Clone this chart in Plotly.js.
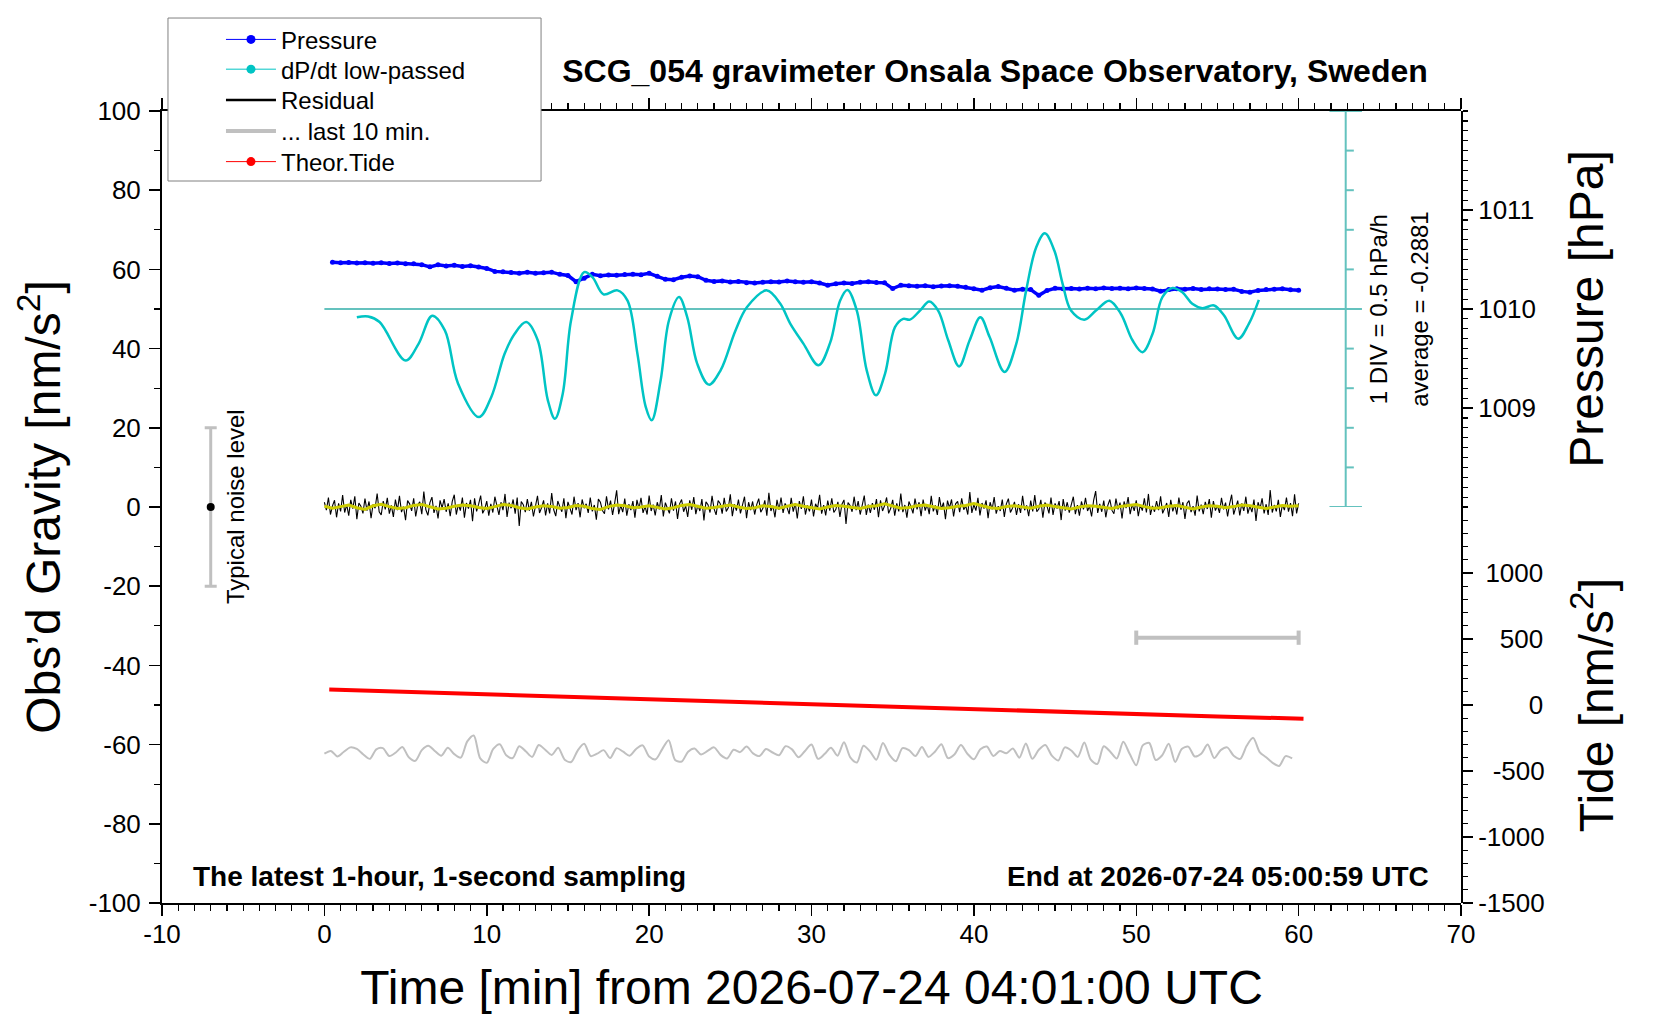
<!DOCTYPE html>
<html>
<head>
<meta charset="utf-8">
<script src="https://cdn.plot.ly/plotly-3.0.1.min.js"></script>
<style>html,body{margin:0;padding:0;background:#fff}</style>
</head>
<body>
<div id="chart" style="width:1660px;height:1020px"></div>
<script>
// values

// pressure [hPa], one value every 0.5 min starting at 0.5 min
var pressureStart = 0.5, pressureStep = 0.5;
var pressure = [
	1010.472,1010.466,1010.470,1010.464,1010.468,1010.462,1010.466,1010.460,1010.464,1010.458,
	1010.456,1010.448,1010.426,1010.446,1010.434,1010.442,1010.430,1010.436,1010.424,1010.410,
	1010.380,1010.376,1010.368,1010.362,1010.370,1010.360,1010.366,1010.372,1010.350,1010.338,
	1010.276,1010.310,1010.350,1010.336,1010.344,1010.340,1010.348,1010.352,1010.346,1010.360,
	1010.330,1010.300,1010.296,1010.320,1010.334,1010.326,1010.290,1010.278,1010.284,1010.272,
	1010.278,1010.266,1010.262,1010.270,1010.276,1010.272,1010.282,1010.276,1010.270,1010.274,
	1010.262,1010.240,1010.256,1010.262,1010.258,1010.270,1010.276,1010.268,1010.264,1010.206,
	1010.240,1010.236,1010.230,1010.236,1010.226,1010.232,1010.236,1010.230,1010.220,1010.204,
	1010.190,1010.214,1010.228,1010.210,1010.190,1010.200,1010.196,1010.138,1010.186,1010.210,
	1010.204,1010.208,1010.202,1010.210,1010.204,1010.212,1010.206,1010.210,1010.204,1010.212,
	1010.208,1010.202,1010.180,1010.196,1010.204,1010.200,1010.206,1010.198,1010.204,1010.202,
	1010.196,1010.200,1010.178,1010.170,1010.188,1010.196,1010.200,1010.204,1010.194,1010.190
];

// dP/dt low-passed [hPa/h]
var dpdtTime = [
	2.0,2.7,3.4,5.0,5.8,6.64,7.42,8.23,9.52,10.28,
	11.1,11.71,12.43,13.14,13.76,14.2,14.68,15.19,16.0,16.52,
	17.19,18.05,18.67,19.28,19.79,20.16,20.71,21.22,21.84,22.35,
	22.96,23.68,24.4,25.32,26.03,27.26,28.08,28.69,29.51,30.43,
	31.15,31.76,32.21,32.79,33.4,33.97,34.53,35.14,35.65,36.06,
	36.68,37.25,37.8,38.42,39.09,39.74,40.4,40.97,41.89,42.61,
	43.22,43.84,44.37,44.96,45.47,45.98,46.8,47.52,48.34,49.05,
	49.77,50.39,51.0,51.61,52.23,52.84,53.45,54.07,54.79,55.4,
	56.28,56.94,57.55
];
var dpdt = [
	-0.393,-0.383,-0.453,-0.938,-0.728,-0.373,-0.558,-1.228,-1.653,-1.398,
	-0.853,-0.603,-0.453,-0.683,-1.438,-1.673,-1.358,-0.433,0.177,0.112,
	-0.103,-0.053,-0.183,-0.853,-1.523,-1.693,-1.188,-0.433,-0.138,-0.393,
	-0.978,-1.243,-1.063,-0.558,-0.263,-0.053,-0.223,-0.473,-0.728,-0.998,
	-0.713,-0.183,-0.048,-0.308,-1.063,-1.378,-1.103,-0.518,-0.413,-0.423,
	-0.308,-0.193,-0.308,-0.683,-1.013,-0.683,-0.393,-0.643,-1.083,-0.728,
	-0.053,0.492,0.667,0.447,0.027,-0.308,-0.423,-0.308,-0.183,-0.348,
	-0.683,-0.833,-0.603,-0.138,-0.023,-0.078,-0.223,-0.278,-0.243,-0.368,
	-0.663,-0.473,-0.173
];
var dpdtAverage = -0.2881;
var dpdtDiv = 0.5;     // hPa/h per division

// residual [nm/s^2], one value every 7.5 s from 0
var residualStep = 0.125;
var residual = [
	1.2,-0.8,2.4,-1.9,0.3,1.7,-2.6,0.9,-1.1,3.0,
	-1.4,0.6,-2.2,1.8,-0.4,2.7,-3.1,1.0,0.2,-1.6,
	2.1,-0.9,1.4,-2.8,0.7,-0.3,3.4,-1.2,-2.0,1.5,
	-0.6,2.3,-1.7,0.4,-2.5,1.9,-0.8,2.8,-1.3,0.1,
	-3.3,1.6,0.8,-1.0,2.2,-2.4,0.5,1.3,-1.8,3.9,
	-0.7,-2.1,1.1,2.5,-1.5,0.3,-2.9,1.7,-0.2,2.0,
	-1.2,0.9,-2.3,1.4,3.1,-1.9,0.6,-0.9,2.4,-2.7,
	1.0,-0.4,1.8,-3.6,2.2,-1.1,0.7,2.9,-1.6,-0.5,
	1.5,-2.2,0.8,-1.4,2.6,0.2,-2.0,1.2,-0.8,3.3,
	-2.5,1.1,-0.3,1.9,-1.7,2.4,-4.8,1.4,0.6,-1.3,
	2.0,-0.9,1.3,-2.4,0.4,2.8,-1.5,-0.2,1.7,-2.1,
	0.9,-1.6,3.5,-0.7,-2.3,1.5,0.1,-1.2,2.2,-2.8,
	1.3,-0.5,-1.9,2.6,-0.8,1.0,-2.6,1.9,-0.3,0.8,
	-1.5,2.4,-1.1,0.5,-3.2,2.0,1.2,-0.9,-1.7,2.7,
	-0.6,1.6,-2.0,0.9,4.2,-1.8,0.4,-1.3,2.1,-2.2,
	0.7,-0.8,1.5,-2.7,1.8,-0.4,2.3,-1.5,0.2,-1.9,
	2.9,-1.0,0.6,-2.1,1.2,-0.6,3.0,-2.4,1.1,-0.3,
	-1.6,2.2,-0.9,1.4,-3.0,0.8,1.9,-1.2,0.3,-2.5,
	1.7,-0.7,2.5,-1.8,0.5,-1.0,2.0,-3.4,1.3,0.6,
	-1.4,2.8,-0.5,-2.0,1.6,0.9,-1.7,2.3,-1.1,-0.2,
	3.2,-2.3,0.7,-0.9,1.9,-1.6,0.2,2.6,-2.8,1.2,
	-0.8,1.4,-1.9,0.6,2.1,-1.3,-0.4,1.7,-2.2,3.6,
	-1.0,0.3,-2.6,1.8,-0.7,2.4,-1.5,0.9,-0.2,-1.8,
	2.3,-1.2,1.0,-2.9,1.5,-0.5,2.7,-1.9,0.4,-1.1,
	1.9,-2.4,0.8,-0.3,3.1,-1.7,0.5,-2.1,1.6,-0.9,
	2.2,-1.4,-0.6,1.3,-2.5,0.7,1.8,-4.3,1.1,0.4,
	-1.2,2.6,-0.8,1.5,-1.9,0.2,2.9,-2.0,0.6,-1.5,
	1.0,-0.7,2.0,-2.6,1.7,-1.0,0.3,2.4,-1.6,-0.4,
	1.8,-2.2,0.9,-1.1,3.4,-1.3,0.5,-2.7,1.4,0.1,
	-1.6,2.1,-0.6,1.2,-2.3,1.9,-0.9,0.7,-1.8,2.8,
	-1.1,0.4,-2.0,2.5,-0.5,1.1,-3.1,1.6,-0.2,1.9,
	-2.4,0.8,1.4,-1.3,2.2,-0.7,0.3,-1.9,3.8,-1.5,
	0.6,-0.9,2.3,-2.1,1.0,-0.4,1.7,-2.8,1.2,-0.6,
	2.5,-1.7,0.2,-1.0,1.9,-2.5,0.8,2.1,-1.4,-0.3,
	1.3,-2.0,0.7,-1.5,2.8,-0.8,0.4,-2.3,1.6,-1.1,
	3.0,-1.2,-0.5,1.8,-2.7,1.1,0.3,-1.6,2.4,-2.0,
	0.9,-0.4,1.5,-3.3,2.0,-0.9,1.2,-1.4,0.6,2.6,
	-1.8,0.5,-2.2,1.4,-0.6,2.3,-1.0,0.2,-2.4,1.7,
	4.0,-1.5,0.8,-1.2,1.6,-2.6,0.4,1.9,-0.8,-1.7,
	2.1,-0.6,1.1,-2.9,1.4,-0.3,2.5,-1.8,0.7,-1.0,
	1.7,-2.3,0.5,-0.9,2.2,-1.4,3.3,-2.0,0.3,-1.2,
	1.5,-0.8,2.7,-1.6,-0.4,1.0,-2.5,1.8,-1.1,0.6,
	-1.9,2.4,-0.7,1.2,-3.0,0.9,1.6,-1.3,0.2,-2.2,
	2.9,-1.1,0.6,-1.8,1.3,-0.5,2.0,-2.7,1.5,-0.9,
	0.4,-1.5,2.3,-0.6,1.1,-2.4,0.8,3.1,-1.9,-0.2,
	1.6,-2.1,0.9,-1.0,2.6,-1.7,0.3,-1.3,1.9,-3.5,
	1.2,-0.4,2.2,-1.6,0.7,-2.0,4.3,-1.4,0.5,-1.1,
	1.8,-2.5,0.6,-0.8,2.4,-1.2,1.0,-2.3,3.2,-1.6,
	0.9
];

// smoothed residual (yellow), every 0.5 min from 0
var smoothStep = 0.5;
var residualSmooth = [
	0.2,-0.3,0.1,0.5,-0.2,-0.6,0.3,0.7,0.1,-0.4,
	-0.2,0.4,0.6,0.0,-0.5,-0.3,0.2,0.5,0.3,-0.1,
	-0.4,0.1,0.6,0.4,-0.2,-0.5,0.0,0.3,0.1,-0.3,
	-0.1,0.4,0.2,-0.4,-0.6,0.1,0.5,0.3,-0.2,0.0,
	0.3,-0.1,-0.5,-0.2,0.4,0.6,0.1,-0.3,-0.1,0.2,
	0.5,0.0,-0.4,-0.2,0.3,0.1,-0.3,0.2,0.6,0.2,
	-0.2,-0.5,0.0,0.4,0.2,-0.1,-0.4,0.1,0.3,0.8,
	0.2,-0.3,-0.1,0.3,0.5,0.0,-0.4,-0.2,0.2,0.4,
	0.9,0.3,-0.2,-0.4,0.1,0.3,0.0,-0.3,0.2,0.5,
	0.1,-0.2,-0.5,0.0,0.3,0.2,-0.1,-0.4,0.1,0.4,
	0.6,0.1,-0.3,-0.2,0.2,0.4,-0.1,-0.5,0.0,0.3,
	0.2,-0.2,0.1,0.5,0.3,-0.1,-0.4,0.0,0.4,0.2,
	0.3
];

// residual of the last 10 minutes [nm/s^2], one value every 4 s from 50 min
var last10Start = 50, last10Step = 4 / 60, last10Span = 10;
var last10 = [
	-0.3,0.4,-1.0,0.2,1.3,0.9,-0.5,-1.6,0.8,1.1,
	-0.9,0.0,1.4,-1.2,-2.1,0.6,1.7,0.4,-0.8,1.2,
	-0.4,-1.3,2.8,4.3,-1.5,-2.6,0.9,2.1,-0.7,-1.4,
	1.6,0.3,-1.1,1.9,0.7,-0.6,1.2,-1.8,-2.4,0.5,
	2.2,-0.9,-0.3,0.6,-1.4,1.1,0.2,-0.8,0.9,1.8,
	-1.0,-1.7,0.8,3.1,-1.9,-2.3,0.2,1.0,-0.5,0.4,
	1.3,-0.6,-1.5,0.7,0.1,1.5,-0.2,-0.9,0.9,0.0,
	-0.7,1.6,0.8,-1.2,0.4,2.0,-1.6,-0.4,1.2,-0.8,
	2.6,-1.3,-2.5,1.7,0.3,-1.8,2.4,-0.6,-2.2,1.1,
	0.6,-0.9,1.4,-1.1,0.2,2.1,-1.4,-0.5,1.9,-0.3,
	-1.7,0.8,1.5,-0.9,0.4,-0.2,1.0,-1.3,2.3,-1.6,
	0.7,1.9,-0.8,-2.0,1.3,0.5,-1.1,2.5,-1.8,-2.9,
	1.6,0.2,-1.5,2.7,-0.4,-3.2,1.8,2.4,-1.9,-0.7,
	2.2,-2.4,0.9,1.5,-1.0,-0.3,2.0,-1.4,0.6,1.3,
	-0.8,-1.6,1.7,3.7,0.1,-1.2,-2.6,-3.4,-0.9,-1.5
];

// theoretical tide [nm/s^2]
var tideTime = [0.3, 5, 10, 15, 20, 25, 30, 35, 40, 45, 50, 55, 60.3];
var tide     = [117, 99, 81, 62, 44, 25, 7, -12, -31, -50, -69, -87, -104];

var noiseLevel = 20;

var timeTicks = [-10, 0, 10, 20, 30, 40, 50, 60, 70];
var gravityTicks = [-100, -80, -60, -40, -20, 0, 20, 40, 60, 80, 100];
var pressureTicks = [1009, 1010, 1011];
var tideTicks = [-1500, -1000, -500, 0, 500, 1000];
// figure/punctuation spaces keep the tide labels right-aligned
var tideTickText = ['-1500', '-1000', '\u2007-500', '\u2007\u2007\u2007\u20080', '\u2007\u2008500', '\u20081000'];

// ---- drawing ----
var FONT = 'Liberation Sans, Arial, sans-serif';
var TEAL = 'rgb(100,194,190)';
var CYAN = 'rgb(0,196,196)';
var GREY = '#c0c0c0';

function timeGrid(start, step, n){
	var t = [];
	for (var i = 0; i < n; i++) {
		t.push(start + i*step);
	}
	return t;
}

function labels(vals){
	return vals.map(function(v){ return String(v); });
}

var last10Offset = -62;   // where the stretched 10-min trace sits
var stretch = 60 / last10Span;
var last10Time = timeGrid(last10Start, last10Step, last10.length);
var last10X = [], last10Y = [];
for (var i = 0; i < last10.length; i++) {
	last10X.push((last10Time[i] - last10Start)*stretch);
	last10Y.push(last10[i] + last10Offset);
}

var traces = [
	{
		x: last10X, y: last10Y,
		mode: 'lines', line: {color: GREY, width: 2, shape: 'spline', smoothing: 0.8}, showlegend: false
	},
	{
		x: timeGrid(0, residualStep, residual.length), y: residual,
		mode: 'lines', line: {color: 'black', width: 1.1}, showlegend: false
	},
	{
		x: timeGrid(0, smoothStep, residualSmooth.length), y: residualSmooth,
		mode: 'lines', line: {color: 'rgb(204,204,0)', width: 3}, showlegend: false
	},
	{
		// bar marking the 10-min window
		x: [last10Start, last10Start + last10Span], y: [-33, -33],
		mode: 'lines', line: {color: GREY, width: 4}, showlegend: false,
		error_y: {type: 'constant', value: 1.8, width: 0, thickness: 4, color: GREY}
	},
	{
		// typical noise level
		x: [-7], y: [0], mode: 'markers',
		marker: {color: 'black', size: 8}, showlegend: false,
		error_y: {type: 'constant', value: noiseLevel, width: 6, thickness: 3, color: GREY}
	},
	{
		x: tideTime, y: tide, yaxis: 'y3',
		mode: 'lines', line: {color: 'red', width: 4}, showlegend: false
	},
	{
		x: timeGrid(pressureStart, pressureStep, pressure.length), y: pressure, yaxis: 'y2',
		mode: 'lines+markers', line: {color: 'blue', width: 3.5},
		marker: {color: 'blue', size: 5}, showlegend: false
	},
	{
		x: dpdtTime, y: dpdt, yaxis: 'y4',
		mode: 'lines', line: {color: CYAN, width: 2.5, shape: 'spline', smoothing: 1},
		showlegend: false
	}
];

// legend entries, one small legend each so the rows sit where they should
var legendItems = [
	{name: 'Pressure',          mode: 'lines+markers', color: 'blue',  width: 1},
	{name: 'dP/dt low-passed',  mode: 'lines+markers', color: CYAN,    width: 1},
	{name: 'Residual',          mode: 'lines',         color: 'black', width: 2.5},
	{name: '... last 10 min.',  mode: 'lines',         color: GREY,    width: 4},
	{name: 'Theor.Tide',        mode: 'lines+markers', color: 'red',   width: 1}
];
var legendTops = [1.1183, 1.0807, 1.0419, 1.0028, 0.9640];
var legendIds = ['legend', 'legend2', 'legend3', 'legend4', 'legend5'];
for (var l = 0; l < legendItems.length; l++) {
	var it = legendItems[l];
	traces.push({
		x: [null], y: [null], name: it.name, mode: it.mode, legend: legendIds[l],
		line: {color: it.color, width: it.width},
		marker: {color: it.color, size: 9}
	});
}

// dP/dt scale on the right
var scaleX = 62.9;
var shapes = [
	{type: 'rect', xref: 'paper', yref: 'paper', x0: 0.0046, x1: 0.2918, y0: 0.9116, y1: 1.1174,
	 fillcolor: 'white', line: {color: '#808080', width: 1}, layer: 'above'},
	{type: 'line', xref: 'x', yref: 'y4', x0: 0, x1: scaleX + 1, y0: dpdtAverage, y1: dpdtAverage,
	 line: {color: TEAL, width: 2}, layer: 'below'},
	{type: 'line', xref: 'x', yref: 'y4', x0: scaleX, x1: scaleX,
	 y0: dpdtAverage - 5*dpdtDiv, y1: dpdtAverage + 5*dpdtDiv,
	 line: {color: TEAL, width: 2}, layer: 'below'}
];
for (var k = -5; k <= 5; k++) {
	if (k === 0) continue;
	var big = Math.abs(k) === 5;
	shapes.push({
		type: 'line', xref: 'x', yref: 'y4',
		x0: big ? scaleX - 1 : scaleX, x1: big ? scaleX + 1 : scaleX + 0.5,
		y0: dpdtAverage + k*dpdtDiv, y1: dpdtAverage + k*dpdtDiv,
		line: {color: TEAL, width: 2}, layer: 'below'
	});
}

var annotations = [
	{x: -8.2, y: -93.4, xref: 'x', yref: 'y', xanchor: 'left', yanchor: 'middle', showarrow: false,
	 text: '<b>The latest 1-hour, 1-second sampling</b>', font: {size: 28}},
	{x: 68.15, y: -93.4, xref: 'x', yref: 'y', xanchor: 'right', yanchor: 'middle', showarrow: false,
	 text: '<b>End at 2026-07-24 05:00:59 UTC</b>', font: {size: 28}},
	{x: -5.5, y: 0, xref: 'x', yref: 'y', showarrow: false, textangle: -90,
	 text: 'Typical noise level', font: {size: 24}},
	{x: 64.9, y: dpdtAverage, xref: 'x', yref: 'y4', showarrow: false, textangle: -90,
	 text: '1 DIV = ' + dpdtDiv + ' hPa/h', font: {size: 24}},
	{x: 67.4, y: dpdtAverage, xref: 'x', yref: 'y4', showarrow: false, textangle: -90,
	 text: 'average = ' + dpdtAverage, font: {size: 24}}
];

var tickStyle = {ticks: 'outside', ticklen: 11, tickwidth: 1.5, tickcolor: 'black',
	showline: true, linewidth: 2, linecolor: 'black', showgrid: false, zeroline: false,
	tickfont: {size: 26}};

function axis(extra){
	var a = {};
	for (var key in tickStyle) a[key] = tickStyle[key];
	for (var key2 in extra) a[key2] = extra[key2];
	return a;
}

function legendAt(top){
	return {
		x: 0.0454, xanchor: 'left', y: top, yanchor: 'top', itemwidth: 50,
		bgcolor: 'rgba(0,0,0,0)', borderwidth: 0, font: {size: 24}
	};
}

var layout = {
	width: 1660, height: 1020,
	margin: {l: 162, r: 199, t: 111, b: 117},
	paper_bgcolor: 'white', plot_bgcolor: 'rgba(0,0,0,0)',
	font: {family: FONT, color: 'black'},
	hovermode: false,
	title: {
		text: '<b>SCG_054 gravimeter Onsala Space Observatory, Sweden</b>',
		font: {size: 32}, x: 0.5994, xanchor: 'center', y: 0.9304, yanchor: 'middle'
	},
	xaxis: axis({
		range: [-10, 70], tickmode: 'array', tickvals: timeTicks, ticktext: labels(timeTicks),
		mirror: 'ticks', ticklabelstandoff: -4,
		minor: {tickmode: 'linear', tick0: 0, dtick: 1, ticks: 'outside', ticklen: 6, tickwidth: 1.2, tickcolor: 'black'},
		title: {text: 'Time [min] from 2026-07-24 04:01:00 UTC', font: {size: 48}, standoff: 22}
	}),
	yaxis: axis({
		range: [-100, 100], tickmode: 'array', tickvals: gravityTicks, ticktext: labels(gravityTicks),
		anchor: 'x', ticklabelstandoff: 3,
		minor: {tickmode: 'linear', tick0: 0, dtick: 10, ticks: 'outside', ticklen: 6, tickwidth: 1.2, tickcolor: 'black'},
		title: {text: 'Obs\u2019d Gravity [nm/s<sup>2</sup>]', font: {size: 48}, standoff: 13}
	}),
	yaxis2: axis({
		domain: [0.5, 1], range: [1008, 1012], anchor: 'x', side: 'right',
		tickmode: 'array', tickvals: pressureTicks, ticktext: labels(pressureTicks), ticklen: 10,
		minor: {tickmode: 'linear', tick0: 1008, dtick: 0.1, ticks: 'outside', ticklen: 5, tickwidth: 1.2, tickcolor: 'black'},
		title: {text: 'Pressure [hPa]', font: {size: 48}, standoff: 34}
	}),
	yaxis3: axis({
		domain: [0, 0.5], range: [-1500, 1500], anchor: 'x', side: 'right',
		tickmode: 'array', tickvals: tideTicks, ticktext: tideTickText, ticklen: 10,
		minor: {tickmode: 'linear', tick0: -1500, dtick: 100, ticks: 'outside', ticklen: 5, tickwidth: 1.2, tickcolor: 'black'},
		title: {text: 'Tide [nm/s<sup>2</sup>]', font: {size: 48}, standoff: 36}
	}),
	yaxis4: {
		overlaying: 'y2', range: [dpdtAverage - 5*dpdtDiv, dpdtAverage + 5*dpdtDiv], visible: false
	},
	legend: legendAt(legendTops[0]),
	legend2: legendAt(legendTops[1]),
	legend3: legendAt(legendTops[2]),
	legend4: legendAt(legendTops[3]),
	legend5: legendAt(legendTops[4]),
	shapes: shapes,
	annotations: annotations
};

Plotly.newPlot('chart', traces, layout, {staticPlot: true});
</script>
</body>
</html>
